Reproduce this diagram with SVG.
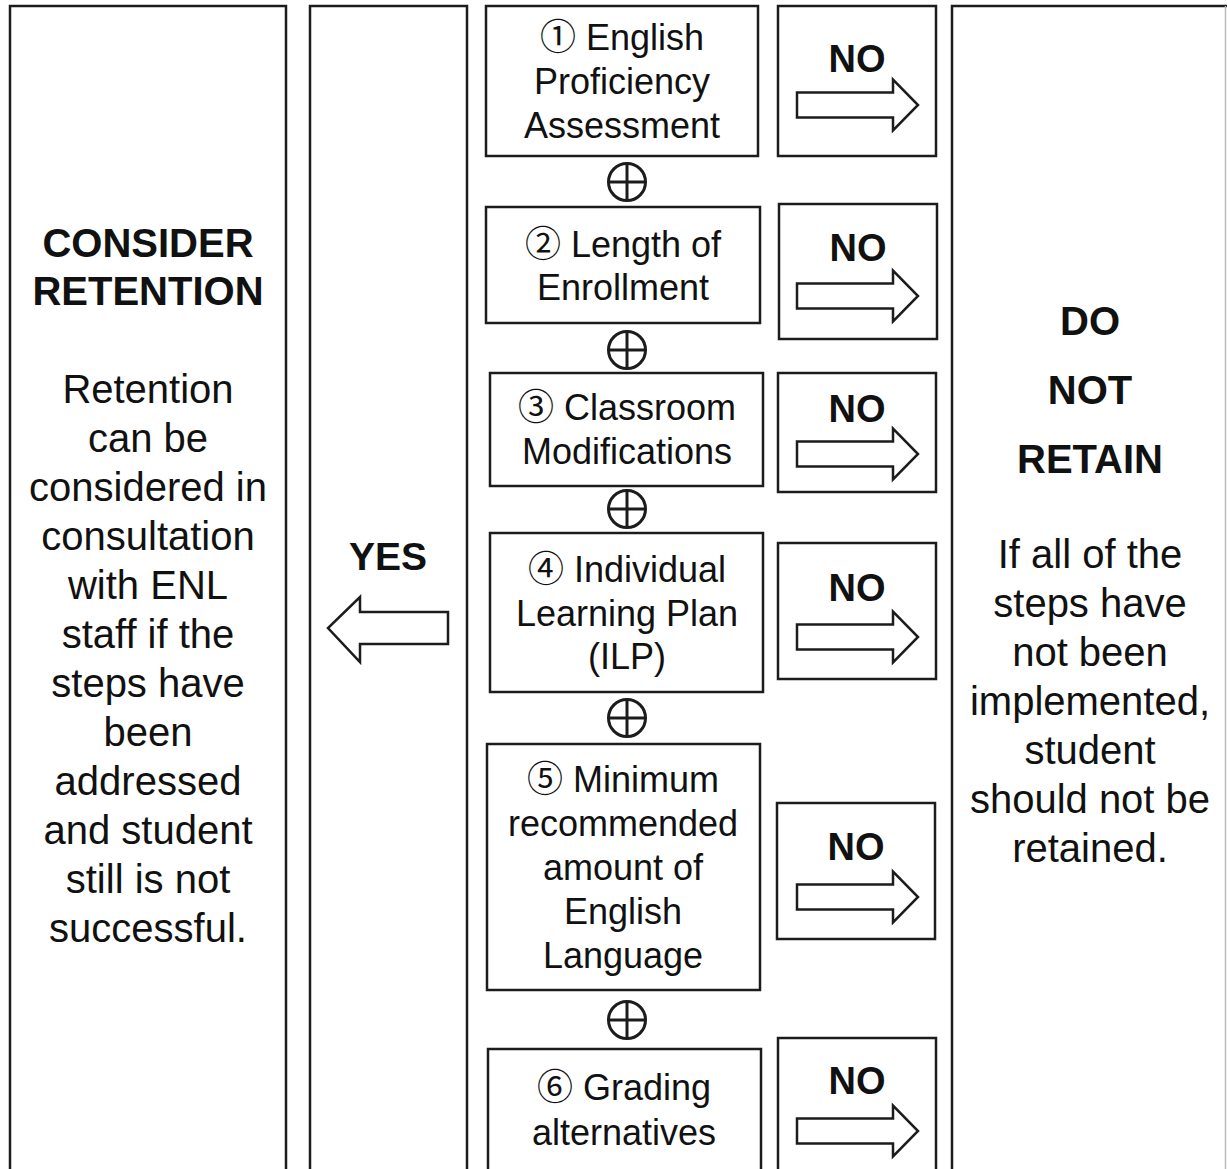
<svg xmlns="http://www.w3.org/2000/svg" xmlns:xlink="http://www.w3.org/1999/xlink" width="1227" height="1169" viewBox="0 0 1227 1169">
<style>
.box{fill:#fff;stroke:#1c1c1c;stroke-width:2.5}
.arr{fill:#fff;stroke:#1c1c1c;stroke-width:2.5;stroke-linejoin:miter}
.plus{fill:none;stroke:#1c1c1c;stroke-width:3}
text{font-family:"Liberation Sans","DejaVu Sans","Noto Sans CJK JP",sans-serif;fill:#111;text-anchor:middle}
.num{font-family:"Noto Sans CJK JP","DejaVu Sans",sans-serif;font-weight:normal}
.step{font-size:36px}
.body{font-size:40px}
.hd{font-size:40px;font-weight:bold}
.no{font-size:38px;font-weight:bold}
</style>
<defs>
<path id="noArrow" class="arr" d="M797,-12.5 L893,-12.5 L893,-25.5 L918,0 L893,25.5 L893,12.5 L797,12.5 Z"/>
<g id="plusSign">
<circle class="plus" cx="0" cy="0" r="18.5"/>
<line class="plus" x1="-18.5" y1="0" x2="18.5" y2="0"/>
<line class="plus" x1="0" y1="-18.5" x2="0" y2="18.5"/>
</g>
</defs>
<rect width="1227" height="1169" fill="#fff"/>

<g id="consider">
<rect class="box" x="10" y="6" width="276" height="1180"/>
<text class="hd" x="148" y="257">CONSIDER</text>
<text class="hd" x="148" y="305">RETENTION</text>
<text class="body" x="148" y="403">Retention</text>
<text class="body" x="148" y="452">can be</text>
<text class="body" x="148" y="501">considered in</text>
<text class="body" x="148" y="550">consultation</text>
<text class="body" x="148" y="599">with ENL</text>
<text class="body" x="148" y="648">staff if the</text>
<text class="body" x="148" y="697">steps have</text>
<text class="body" x="148" y="746">been</text>
<text class="body" x="148" y="795">addressed</text>
<text class="body" x="148" y="844">and student</text>
<text class="body" x="148" y="893">still is not</text>
<text class="body" x="148" y="942">successful.</text>
</g>

<g id="yes">
<rect class="box" x="310" y="6" width="157" height="1180"/>
<text class="hd" x="388" y="570" style="font-size:39px">YES</text>
<path class="arr" d="M448,612 L360,612 L360,597 L328,628 L360,662 L360,644 L448,644 Z"/>
</g>

<g id="step1">
<rect class="box" x="486" y="6" width="272" height="150"/>
<text class="step" x="622" y="50"><tspan class="num">①</tspan> English</text>
<text class="step" x="622" y="94">Proficiency</text>
<text class="step" x="622" y="138">Assessment</text>
</g>
<g id="step2">
<rect class="box" x="486" y="207" width="274" height="116"/>
<text class="step" x="623" y="257"><tspan class="num">②</tspan> Length of</text>
<text class="step" x="623" y="300">Enrollment</text>
</g>
<g id="step3">
<rect class="box" x="490" y="373" width="273" height="113"/>
<text class="step" x="627" y="420"><tspan class="num">③</tspan> Classroom</text>
<text class="step" x="627" y="464">Modifications</text>
</g>
<g id="step4">
<rect class="box" x="490" y="533" width="273" height="159"/>
<text class="step" x="627" y="582"><tspan class="num">④</tspan> Individual</text>
<text class="step" x="627" y="626">Learning Plan</text>
<text class="step" x="627" y="669">(ILP)</text>
</g>
<g id="step5">
<rect class="box" x="487" y="744" width="273" height="246"/>
<text class="step" x="623" y="792"><tspan class="num">⑤</tspan> Minimum</text>
<text class="step" x="623" y="836">recommended</text>
<text class="step" x="623" y="880">amount of</text>
<text class="step" x="623" y="924">English</text>
<text class="step" x="623" y="968">Language</text>
</g>
<g id="step6">
<rect class="box" x="488" y="1049" width="273" height="140"/>
<text class="step" x="624" y="1100"><tspan class="num">⑥</tspan> Grading</text>
<text class="step" x="624" y="1145">alternatives</text>
</g>

<g id="no1">
<rect class="box" x="778" y="6" width="158" height="150"/>
<text class="no" x="857" y="72">NO</text>
<use xlink:href="#noArrow" y="105"/>
</g>
<g id="no2">
<rect class="box" x="779" y="204" width="158" height="135"/>
<text class="no" x="858" y="261">NO</text>
<use xlink:href="#noArrow" y="296"/>
</g>
<g id="no3">
<rect class="box" x="778" y="373" width="158" height="119"/>
<text class="no" x="857" y="422">NO</text>
<use xlink:href="#noArrow" y="454"/>
</g>
<g id="no4">
<rect class="box" x="778" y="543" width="158" height="136"/>
<text class="no" x="857" y="601">NO</text>
<use xlink:href="#noArrow" y="637"/>
</g>
<g id="no5">
<rect class="box" x="777" y="803" width="158" height="136"/>
<text class="no" x="856" y="860">NO</text>
<use xlink:href="#noArrow" y="897"/>
</g>
<g id="no6">
<rect class="box" x="778" y="1038" width="158" height="150"/>
<text class="no" x="857" y="1094">NO</text>
<use xlink:href="#noArrow" y="1131"/>
</g>

<g id="doNotRetain">
<path d="M952,1186 L952,6 L1227,6" fill="none" stroke="#1c1c1c" stroke-width="2.5"/>
<line x1="1225.5" y1="6" x2="1225.5" y2="1169" stroke="#bbb" stroke-width="1.5"/>
<text class="hd" x="1090" y="335">DO</text>
<text class="hd" x="1090" y="404">NOT</text>
<text class="hd" x="1090" y="473">RETAIN</text>
<text class="body" x="1090" y="568">If all of the</text>
<text class="body" x="1090" y="617">steps have</text>
<text class="body" x="1090" y="666">not been</text>
<text class="body" x="1090" y="715">implemented,</text>
<text class="body" x="1090" y="764">student</text>
<text class="body" x="1090" y="813">should not be</text>
<text class="body" x="1090" y="862">retained.</text>
</g>

<g id="connectors">
<use xlink:href="#plusSign" x="627" y="182"/>
<use xlink:href="#plusSign" x="627" y="350"/>
<use xlink:href="#plusSign" x="627" y="509"/>
<use xlink:href="#plusSign" x="627" y="718"/>
<use xlink:href="#plusSign" x="627" y="1020"/>
</g>
</svg>
